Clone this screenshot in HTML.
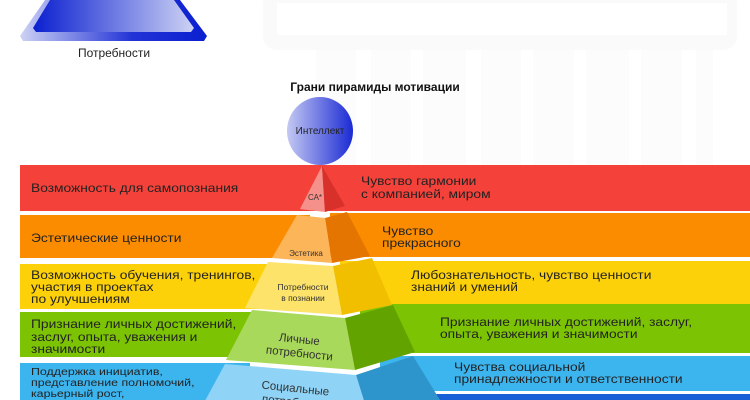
<!DOCTYPE html>
<html><head><meta charset="utf-8"><style>
body{margin:0;background:#fff}
svg{display:block;font-family:"Liberation Sans",sans-serif}
</style></head><body>
<svg width="750" height="400" viewBox="0 0 750 400" xmlns="http://www.w3.org/2000/svg">
<defs>
<linearGradient id="tb" x1="0" x2="1"><stop offset="0" stop-color="#0a1fd0"/><stop offset="1" stop-color="#cdd2f4"/></linearGradient>
<linearGradient id="tb2" x1="0" x2="1"><stop offset="0" stop-color="#cdd2f4"/><stop offset="0.6" stop-color="#2233d6"/><stop offset="1" stop-color="#0a1fd0"/></linearGradient>
<linearGradient id="ci" x1="0" x2="1"><stop offset="0" stop-color="#c4c9f2"/><stop offset="1" stop-color="#1a2ad4"/></linearGradient>
</defs>
<!-- faint grid -->
<rect x="263" y="-10" width="474" height="60" rx="14" fill="#fafafb"/>
<rect x="277" y="3" width="450" height="32" fill="#fff"/>
<g fill="#fcfcfd"><rect x="316" y="50" width="40" height="115"/><rect x="371" y="50" width="40" height="115"/><rect x="423" y="50" width="43" height="115"/><rect x="481" y="50" width="40" height="115"/><rect x="533" y="50" width="41" height="115"/><rect x="586" y="50" width="43" height="115"/><rect x="641" y="50" width="41" height="115"/><rect x="696" y="50" width="17" height="115"/></g>
<!-- top trapezoid -->
<polygon points="45,0 180,0 207,36 204,41 23,41 20,36" fill="url(#tb2)"/>
<polygon points="50,0 174,0 194,28 191,32 36,32 33,28" fill="url(#tb)"/>
<text x="114" y="57" font-size="12" text-anchor="middle" fill="#222">Потребности</text>
<text x="375" y="91" font-size="12" font-weight="bold" text-anchor="middle" fill="#111">Грани пирамиды мотивации</text>
<ellipse cx="320" cy="131" rx="33" ry="34" fill="url(#ci)"/>
<text x="320" y="134" font-size="10" text-anchor="middle" fill="#222">Интеллект</text>
<!-- bands -->
<rect x="20" y="165" width="730" height="46" fill="#f4423a"/>
<rect x="20" y="215" width="290" height="43" fill="#fb8c00"/>
<rect x="330" y="213" width="420" height="44" fill="#fb8c00"/>
<rect x="20" y="264" width="260" height="45" fill="#fdd10a"/>
<rect x="340" y="261" width="410" height="44" fill="#fdd10a"/>
<rect x="20" y="312" width="240" height="45" fill="#7cc403"/>
<rect x="360" y="304" width="390" height="49" fill="#7cc403"/>
<rect x="20" y="363" width="230" height="37" fill="#3cb5ef"/>
<rect x="380" y="356" width="370" height="35" fill="#3cb5ef"/>
<rect x="430" y="394" width="320" height="6" fill="#1a5fd6"/>
<!-- pyramid -->
<polygon points="322,166 325,212 300,209" fill="#f6908a"/>
<polygon points="322,166 345,206 325,212" fill="#d8302a"/>
<polygon points="297,215 325,218 332,263 272,258" fill="#fdb55a"/>
<polygon points="325,218 347,212 370,256 332,263" fill="#e37500"/>
<polygon points="268,262 333,266 342,315 245,308" fill="#fde36a"/>
<polygon points="333,266 372,258 392,305 342,315" fill="#f2be00"/>
<polygon points="252,310 345,318 355,370 226,360" fill="#a9d95a"/>
<polygon points="345,318 393,305 415,352 355,370" fill="#63a300"/>
<polygon points="225,364 356,375 370,420 200,410" fill="#8fd3f6"/>
<polygon points="356,375 413,356 440,400 370,420" fill="#2e95cc"/>
<!-- pyramid labels -->
<text x="315" y="200" font-size="8" fill="#333" text-anchor="middle">СА*</text>
<text x="306" y="256" font-size="8" fill="#333" text-anchor="middle">Эстетика</text>
<text x="303" y="290" font-size="8.5" fill="#333" text-anchor="middle">Потребности</text>
<text x="303" y="301" font-size="8.5" fill="#333" text-anchor="middle">в познании</text>
<text x="299" y="343" font-size="11.5" fill="#333" text-anchor="middle" transform="rotate(6 299 343)">Личные</text>
<text x="299" y="357" font-size="11.5" fill="#333" text-anchor="middle" transform="rotate(6 299 357)">потребности</text>
<text x="295" y="392" font-size="11.5" fill="#333" text-anchor="middle" transform="rotate(6 295 392)">Социальные</text>
<text x="295" y="406" font-size="11.5" fill="#333" text-anchor="middle" transform="rotate(6 295 406)">потребности</text>
<!-- left texts -->
<g font-size="12" fill="#222" transform="matrix(1.15,0,0,1,31,0)">
<text x="0" y="192">Возможность для самопознания</text>
<text x="0" y="242">Эстетические ценности</text>
<text x="0" y="279">Возможность обучения, тренингов,</text>
<text x="0" y="291">участия в проектах</text>
<text x="0" y="303">по улучшениям</text>
<text x="0" y="328">Признание личных достижений,</text>
<text x="0" y="341">заслуг, опыта, уважения и</text>
<text x="0" y="353">значимости</text>
</g>
<g font-size="10.5" fill="#222" transform="matrix(1.18,0,0,1,31,0)">
<text x="0" y="375">Поддержка инициатив,</text>
<text x="0" y="386">представление полномочий,</text>
<text x="0" y="397">карьерный рост,</text>
<text x="0" y="408">общественное признание</text>
</g>
<g font-size="12" fill="#222">
<text transform="matrix(1.15,0,0,1,361,0)" y="185">Чувство гармонии</text>
<text transform="matrix(1.15,0,0,1,361,0)" y="198">с компанией, миром</text>
<text transform="matrix(1.15,0,0,1,382,0)" y="235">Чувство</text>
<text transform="matrix(1.15,0,0,1,382,0)" y="247">прекрасного</text>
<text transform="matrix(1.15,0,0,1,411,0)" y="279">Любознательность, чувство ценности</text>
<text transform="matrix(1.15,0,0,1,411,0)" y="291">знаний и умений</text>
<text transform="matrix(1.15,0,0,1,440,0)" y="326">Признание личных достижений, заслуг,</text>
<text transform="matrix(1.15,0,0,1,440,0)" y="338">опыта, уважения и значимости</text>
<text transform="matrix(1.15,0,0,1,454,0)" y="371">Чувства социальной</text>
<text transform="matrix(1.15,0,0,1,454,0)" y="383">принадлежности и ответственности</text>
</g>
</svg>
</body></html>
